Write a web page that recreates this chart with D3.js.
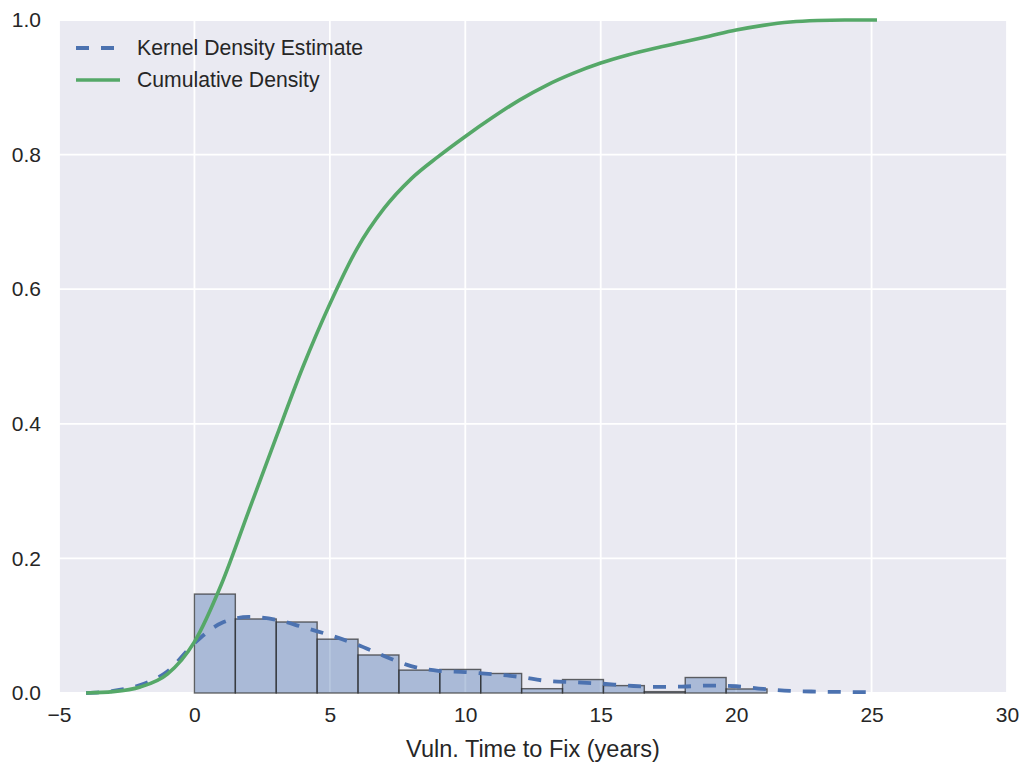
<!DOCTYPE html>
<html>
<head>
<meta charset="utf-8">
<script src="https://cdn.jsdelivr.net/npm/d3@7"></script>
<style>
  body { margin: 0; background: #fff; }
  svg text { font-family: "Liberation Sans", Arial, sans-serif; fill: #262626; }
</style>
</head>
<body>
<svg id="chart" width="1024" height="769"></svg>
<script>
// histogram bins (years) and their normalised heights
var histEdges = [0, 1.51, 3.02, 4.53, 6.04, 7.55, 9.06, 10.57, 12.08, 13.59, 15.10, 16.61, 18.12, 19.63, 21.14];
var histHeights = [0.147, 0.110, 0.1055, 0.080, 0.0565, 0.034, 0.035, 0.029, 0.0064, 0.020, 0.011, 0.002, 0.023, 0.006];

// kernel density estimate
var kdeX = [-4, -3, -2, -1, 0, 1, 2, 3, 4, 5, 6, 7, 8, 9, 10, 11, 12, 13, 14, 15, 16, 17, 18, 19, 20, 21, 22, 23, 24, 25.2];
var kdeY = [0, 0.003, 0.012, 0.032, 0.074, 0.104, 0.113, 0.109, 0.098, 0.086, 0.072, 0.055, 0.040, 0.033, 0.031, 0.028, 0.024, 0.018, 0.016, 0.014, 0.011, 0.009, 0.0095, 0.011, 0.010, 0.0062, 0.0032, 0.002, 0.0015, 0.0012];

// cumulative density
var cdfX = kdeX;
var cdfY = [0, 0.002, 0.009, 0.028, 0.076, 0.162, 0.270, 0.378, 0.484, 0.578, 0.660, 0.720, 0.764, 0.797, 0.827, 0.855, 0.881, 0.903, 0.921, 0.936, 0.948, 0.958, 0.967, 0.976, 0.985, 0.992, 0.997, 0.9993, 1.0, 1.0];

var xTicks = [-5, 0, 5, 10, 15, 20, 25, 30];
var yTicks = [0, 0.2, 0.4, 0.6, 0.8, 1.0];
var legendLabels = ["Kernel Density Estimate", "Cumulative Density"];

var margin = {left: 59, right: 17, top: 20, bottom: 76};
var width = 1024 - margin.left - margin.right,
    height = 769 - margin.top - margin.bottom;

var svg = d3.select("#chart");
var g = svg.append("g")
    .attr("transform", "translate(" + margin.left + "," + margin.top + ")");

var x = d3.scaleLinear().domain([-5, 30]).range([0, width]);
var y = d3.scaleLinear().domain([0, 1]).range([height, 0]);

// background
g.append("rect")
    .attr("width", width)
    .attr("height", height)
    .style("fill", "#eaeaf2");

// grid
g.selectAll("line.xgrid")
    .data(xTicks)
  .enter().append("line")
    .attr("class", "xgrid")
    .attr("x1", d => x(d)).attr("x2", d => x(d))
    .attr("y1", 0).attr("y2", height)
    .style("stroke", "#fff").style("stroke-width", 1.8);

g.selectAll("line.ygrid")
    .data(yTicks)
  .enter().append("line")
    .attr("class", "ygrid")
    .attr("y1", d => y(d)).attr("y2", d => y(d))
    .attr("x1", 0).attr("x2", width)
    .style("stroke", "#fff").style("stroke-width", 1.8);

// axes (labels only, no spines)
var xAxis = g.append("g")
    .attr("transform", "translate(0," + height + ")")
    .call(d3.axisBottom(x).tickValues(xTicks).tickSize(0).tickPadding(14)
        .tickFormat(d => d < 0 ? "\u2212" + Math.abs(d) : d));
var yAxis = g.append("g")
    .call(d3.axisLeft(y).tickValues(yTicks).tickSize(0).tickPadding(18)
        .tickFormat(d3.format(".1f")));
[xAxis, yAxis].forEach(function(a) {
    a.select(".domain").remove();
    a.selectAll("text")
        .style("font-size", "21px")
        .style("font-family", "'Liberation Sans', Arial, sans-serif")
        .style("fill", "#262626");
});

// histogram
var bins = histHeights.map(function(h, i) {
    return {x0: histEdges[i], x1: histEdges[i + 1], h: h};
});
g.selectAll("rect.bar")
    .data(bins)
  .enter().append("rect")
    .attr("class", "bar")
    .attr("x", d => x(d.x0))
    .attr("width", d => x(d.x1) - x(d.x0))
    .attr("y", d => y(d.h))
    .attr("height", d => y(0) - y(d.h))
    .style("fill", "#4c72b0")
    .style("fill-opacity", 0.4)
    .style("stroke", "#2a2a2a")
    .style("stroke-opacity", 0.7)
    .style("stroke-width", 1.4);

var line = d3.line()
    .x(d => x(d[0]))
    .y(d => y(d[1]))
    .curve(d3.curveMonotoneX);

// KDE
g.append("path")
    .datum(d3.zip(kdeX, kdeY))
    .attr("d", line)
    .style("fill", "none")
    .style("stroke", "#4c72b0")
    .style("stroke-width", 3.8)
    .style("stroke-dasharray", "13,12");

// CDF
g.append("path")
    .datum(d3.zip(cdfX, cdfY))
    .attr("d", line)
    .style("fill", "none")
    .style("stroke", "#55a868")
    .style("stroke-width", 3.6);

// legend
var legend = svg.append("g").attr("transform", "translate(76,48)");
var items = legend.selectAll("g")
    .data(legendLabels)
  .enter().append("g")
    .attr("transform", (d, i) => "translate(0," + i * 32 + ")");
items.append("line")
    .attr("x1", 0).attr("x2", 44)
    .style("stroke", (d, i) => i === 0 ? "#4c72b0" : "#55a868")
    .style("stroke-width", (d, i) => i === 0 ? 3.8 : 3.6)
    .style("stroke-dasharray", (d, i) => i === 0 ? "13,12" : null);
items.append("text")
    .attr("x", 61)
    .attr("dy", "0.35em")
    .style("font-size", "21.2px")
    .text(d => d);

// x label
svg.append("text")
    .attr("x", margin.left + width / 2)
    .attr("y", 757)
    .attr("text-anchor", "middle")
    .style("font-size", "23.5px")
    .text("Vuln. Time to Fix (years)");
</script>
</body>
</html>
